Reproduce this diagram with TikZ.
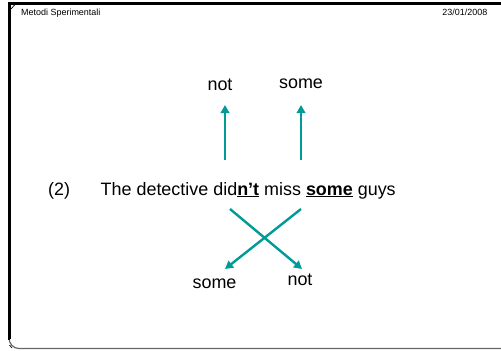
\documentclass[tikz,border=0pt]{standalone}
\usepackage{fontspec}
\setmainfont{Liberation Sans}
\usetikzlibrary{arrows.meta}
\definecolor{teal1}{RGB}{0,155,150}
\tikzset{
  lbl/.style={inner sep=0pt, anchor=base, font=\fontsize{18}{20}\selectfont},
  hdr/.style={inner sep=0pt, anchor=base, font=\fontsize{9}{10}\selectfont},
  scope arrow/.style={draw=teal1, line width=2.4bp, -{Triangle[length=8bp,width=8.5bp]}},
}
\begin{document}
\begin{tikzpicture}[x=1bp,y=-1bp]
  \useasboundingbox (0,0) rectangle (501,350);
  % slide frame
  \fill[black] (7.5,1.5) rectangle (501,4.5);
  \fill[black] (7.5,1.5) rectangle (10.5,339);
  \draw[black!60, line width=1.2bp] (9,338) to[out=-90,in=180] (19,348.5) -- (501,348.5);
  \draw[black, line width=2.5bp] (9,336) -- (9,340);
  \draw[black, line width=0.7bp] (11,9) -- (14.5,5);
  \draw[black, line width=0.7bp] (9.5,345) -- (12,348);
  % header
  \node[hdr, anchor=base west] (title) at (21,15) {Metodi Sperimentali};
  \node[hdr, anchor=base east] (date) at (487.5,15) {23/01/2008};
  % example sentence
  \node[lbl, anchor=base west] (num) at (48,195) {(2)};
  \node[lbl, anchor=base west] (sent) at (100.5,195)
    {The detective did\underline{\textbf{n’t}} miss \underline{\textbf{some}} guys};
  % surface scope readings
  \node[lbl] (nottop) at (220,90) {not};
  \node[lbl] (sometop) at (301,88) {some};
  \coordinate (a1) at (225,160);
  \coordinate (a1t) at (225,105);
  \coordinate (a2) at (301,160);
  \coordinate (a2t) at (301,105);
  \draw[scope arrow] (a1) -- (a1t);
  \draw[scope arrow] (a2) -- (a2t);
  % inverse scope readings
  \node[lbl] (somebot) at (214.5,288) {some};
  \node[lbl] (notbot) at (300,285) {not};
  \coordinate (x1) at (230,209);
  \coordinate (x1t) at (302,269);
  \coordinate (x2) at (301,209);
  \coordinate (x2t) at (225,269);
  \draw[scope arrow] (x1) -- (x1t);
  \draw[scope arrow] (x2) -- (x2t);
\end{tikzpicture}
\end{document}
